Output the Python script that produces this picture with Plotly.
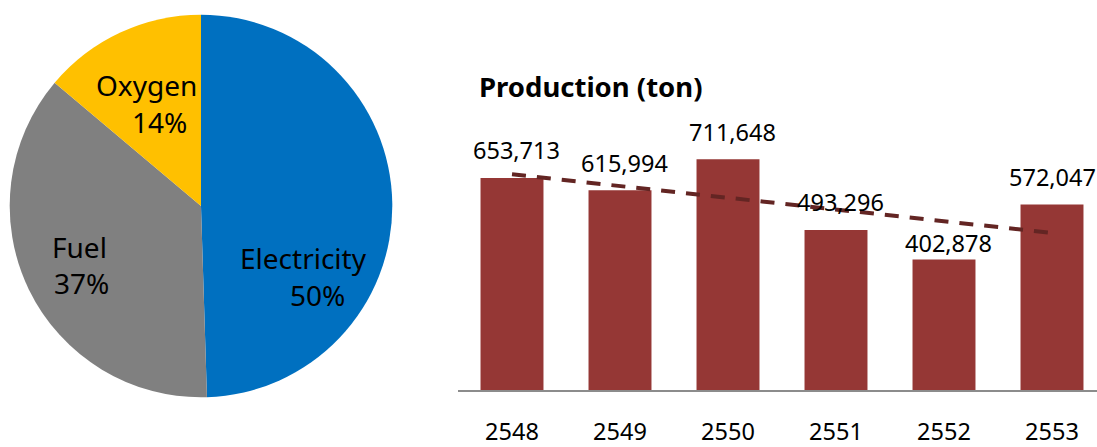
import numpy as np
import plotly.graph_objects as go

# Energy share (pie)
share_labels = ["Electricity", "Fuel", "Oxygen"]
share_values = [50, 37, 14]
share_colors = ["#0070C0", "#808080", "#FFC000"]

# Annual production (bar)
years = ["2548", "2549", "2550", "2551", "2552", "2553"]
production = [653713, 615994, 711648, 493296, 402878, 572047]

W, H = 1097, 447
FONT = "Noto Sans"


def py(px):
    """Pixel row (from top) -> paper y."""
    return (H - px) / H


fig = go.Figure()

fig.add_trace(go.Pie(
    labels=share_labels,
    values=share_values,
    marker=dict(colors=share_colors, line=dict(width=0)),
    sort=False,
    direction="clockwise",
    rotation=0,
    textinfo="none",
    hoverinfo="label+percent",
    showlegend=False,
    domain=dict(x=[9.3 / W, 392.7 / W], y=[py(397.3), py(14.7)]),
))

fig.add_trace(go.Bar(
    x=years,
    y=production,
    marker=dict(color="#953735", line=dict(width=0)),
    showlegend=False,
    hoverinfo="x+y",
))

# Linear trend through the yearly production
xi = np.arange(len(years))
slope, intercept = np.polyfit(xi, production, 1)
trend = slope * xi + intercept
fig.add_trace(go.Scatter(
    x=[years[0], years[-1]],
    y=[trend[0], trend[-1]],
    mode="lines",
    line=dict(color="#632523", width=4, dash="14px,11px"),
    showlegend=False,
    hoverinfo="skip",
))

annotations = []

# Pie slice labels: name line + percent line (baseline rows in px)
pie_text_pos = {
    "Electricity": ((303.3, 268.0), (317.3, 304.5)),
    "Fuel": ((79.0, 256.7), (81.7, 293.2)),
    "Oxygen": ((146.3, 95.0), (159.0, 131.5)),
}
pie_size = 28
for lab, val in zip(share_labels, share_values):
    (x1, b1), (x2, b2) = pie_text_pos[lab]
    for txt, xx, bb in ((lab, x1, b1), (f"{val}%", x2, b2)):
        annotations.append(dict(
            text=txt, xref="paper", yref="paper",
            x=xx / W, y=py(bb - 0.35 * pie_size),
            xanchor="center", yanchor="middle", showarrow=False,
            font=dict(family=FONT, size=pie_size, color="#000000"),
        ))

# Value labels above bars (x given as category index);
# gap = px from bar top to text baseline, dx = horizontal nudge
lbl_size = 23.5
label_gap = [20, 19.5, 19.5, 19.5, 8.6, 19.5]
label_dx = [4, 4, 4, 4, 4, 0]
for i, v in enumerate(production):
    annotations.append(dict(
        text=f"{v:,}", xref="x", yref="y", x=i, y=v,
        xanchor="center", yanchor="middle", showarrow=False,
        xshift=label_dx[i], yshift=label_gap[i] + 0.35 * lbl_size,
        font=dict(family=FONT, size=lbl_size, color="#000000"),
    ))

# Chart title
title_size = 27.5
annotations.append(dict(
    text="<b>Production (ton)</b>", xref="paper", yref="paper",
    x=477 / W, y=py(95.7 - 0.35 * title_size),
    xanchor="left", yanchor="middle", showarrow=False,
    font=dict(family=FONT, size=title_size, color="#000000"),
))

fig.update_layout(
    width=W, height=H,
    autosize=False,
    margin=dict(l=0, r=0, t=0, b=0, pad=0),
    paper_bgcolor="white",
    plot_bgcolor="white",
    bargap=0.417,
    annotations=annotations,
    xaxis=dict(
        domain=[458 / W, 1.0],
        type="category",
        range=[-0.5, (W - 512) / 108],
        automargin=False,
        showline=True, linecolor="#8c8c8c", linewidth=1.5,
        showgrid=False, zeroline=False, ticks="",
        tickfont=dict(family=FONT, size=lbl_size, color="#000000"),
        ticklabelstandoff=20,
        fixedrange=True,
    ),
    yaxis=dict(
        domain=[py(390), py(100)],
        range=[0, 290 * 3085],
        automargin=False,
        visible=False,
        showgrid=False, zeroline=False,
        fixedrange=True,
    ),
)

fig.write_html("out.html")
